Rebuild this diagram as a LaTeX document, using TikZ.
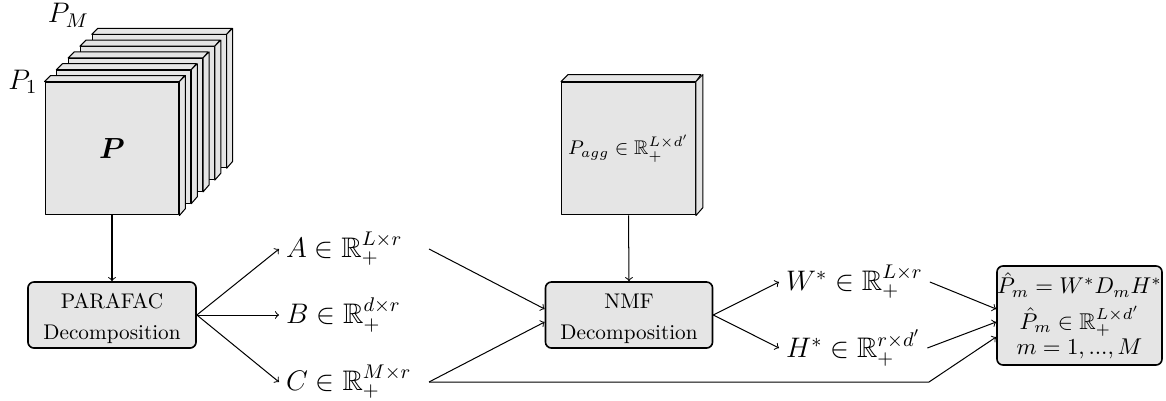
\RequirePackage{fix-cm}
\documentclass[tikz,border=0pt]{standalone}
\usepackage{amsmath,amssymb}
\usetikzlibrary{calc}
\begin{document}
\begin{tikzpicture}[x=0.495pt,y=-0.495pt,
  slabface/.style={draw=black, fill=gray!20, line width=0.5pt, line join=round},
  slab/.style={slabface, rectangle, inner sep=0pt, minimum width=66.3pt, minimum height=65.8pt},
  procbox/.style={draw=black, fill=gray!20, thick, rounded corners=3pt, align=center, inner sep=0pt},
  lbl/.style={anchor=west, font=\fontsize{14}{16}\selectfont},
  conn/.style={->, line width=0.5pt},
]
\useasboundingbox (0,0) rectangle (1166,400);

% stack of slices
\foreach \k in {4,3,2,1,0} {
  \node[slab] (s\k) at ({112+11.8*\k},{148.5-11.8*\k}) {};
  \draw[slabface] (s\k.north west) -- ++(6,-6) -- ++(134,0) -- (s\k.north east) -- cycle;
  \draw[slabface] (s\k.north east) -- ++(6,-6) -- ++(0,133) -- (s\k.south east) -- cycle;
}
\node[font=\Large] (ptxt) at (s0.center) {$\boldsymbol{P}$};
\node[anchor=east, font=\fontsize{14}{16}\selectfont] (p1) at (s0.north west) {$P_1$};
\node[anchor=south east, xshift=2pt, font=\fontsize{14}{16}\selectfont] (pM) at (s4.north west) {$P_M$};

% aggregated matrix
\node[slab, font=\fontsize{9.8}{12}\selectfont] (pagg) at (628.5,148.5) {$P_{agg} \in \mathbb{R}_+^{L\times d'}$};
\draw[slabface] (pagg.north west) -- ++(7,-7) -- ++(133,0) -- (pagg.north east) -- cycle;
\draw[slabface] (pagg.north east) -- ++(7,-7) -- ++(0,133) -- (pagg.south east) -- cycle;

% process boxes
\node[procbox, font=\fontsize{10.5}{15.3}\selectfont, minimum width=83.2pt, minimum height=32.7pt] (parafac) at (112,315) {\rule{0pt}{0pt}\\[-4.5pt]PARAFAC\\Decomposition};
\node[procbox, font=\fontsize{10.5}{15.3}\selectfont, minimum width=82.7pt, minimum height=32.7pt] (nmf) at (629,315) {\rule{0pt}{0pt}\\[-4.5pt]NMF\\Decomposition};
\node[procbox, font=\fontsize{11.3}{12.4}\selectfont, minimum width=81.7pt, minimum height=49pt] (out) at (1079.5,315.5)
  {$\hat{P}_m = W^*D_mH^*$\\[3.4pt]$\hat{P}_m \in \mathbb{R}_+^{L\times d'}$\\$m=1,...,M$};

% factor labels
\node[lbl] (A) at (279,249) {$A \in \mathbb{R}_+^{L\times r}$};
\node[lbl] (B) at (279,315) {$B \in \mathbb{R}_+^{d\times r}$};
\node[lbl] (C) at (279,382) {$C \in \mathbb{R}_+^{M\times r}$};
\node[lbl] (W) at (779,282) {$W^* \in \mathbb{R}_+^{L\times r}$};
\node[lbl] (H) at (779,348) {$H^* \in \mathbb{R}_+^{r\times d'}$};
\coordinate (bend) at (929,382);

% connectors
\draw[conn] (s0.south) -- (parafac.north);
\draw[conn] (pagg.south) -- (nmf.north);
\draw[conn] (parafac.east) -- (A.west);
\draw[conn] (parafac.east) -- (B.west);
\draw[conn] (parafac.east) -- (C.west);
\draw[conn] ($(A.west)+(150,0)$) -- ($(nmf.west)+(0,-6)$);
\draw[conn] ($(C.west)+(150,0)$) -- ($(nmf.west)+(0,7)$);
\draw[conn] (nmf.east) -- (W.west);
\draw[conn] (nmf.east) -- (H.west);
\draw[conn] (W.east) -- ($(out.west)+(0,-6.5)$);
\draw[conn] (H.east) -- ($(out.west)+(0,6.5)$);
\draw[conn] ($(C.west)+(150,0)$) -- (bend) -- ($(out.west)+(0,21.5)$);
\end{tikzpicture}
\end{document}
